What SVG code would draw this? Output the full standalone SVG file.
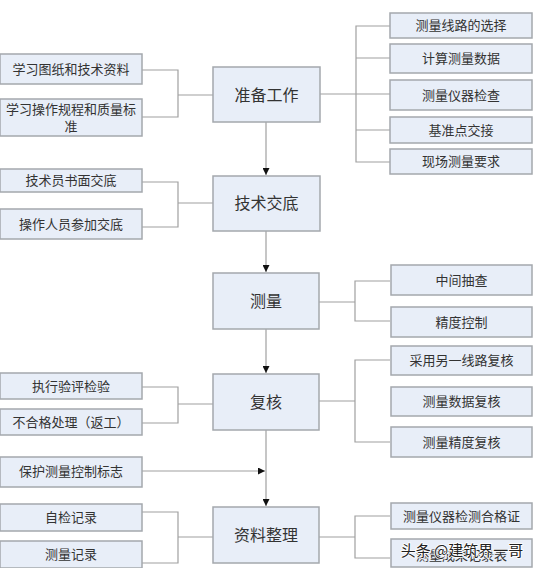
<svg xmlns="http://www.w3.org/2000/svg" width="533" height="568" viewBox="0 0 533 568">
<defs>
<style>
.b{fill:#e8eef8;stroke:#a4a8ad;stroke-width:1.5}
.t{font-family:"Liberation Serif","Noto Sans CJK SC",serif;font-size:13px;fill:#333;text-anchor:middle;dominant-baseline:central}
.m{font-size:16px}
.c{fill:none;stroke:#a0a0a0;stroke-width:1.2}
.w{font-family:"Noto Sans CJK SC",sans-serif;font-size:15px;fill:#222;stroke:#fff;stroke-width:1.6;paint-order:stroke;text-anchor:middle;dominant-baseline:central}
</style>
<marker id="a" viewBox="0 0 10 10" refX="10" refY="5" markerWidth="7" markerHeight="7" orient="auto" markerUnits="userSpaceOnUse">
<path d="M0,0L10,5L0,10z" fill="#111"/>
</marker>
</defs>
<rect width="533" height="568" fill="#fff"/>
<g id="connectors">
<path class="c" d="M142,70H178V117H142M178,95H213"/>
<path class="c" d="M320,94H356M390,26H356V162H390M356,58H390M356,94H390M356,130H390"/>
<path class="c" d="M142,182H178V227H142M178,203H213"/>
<path class="c" d="M319,302H355M390,281H355V321H390"/>
<path class="c" d="M142,387H178V423H142M178,404H213"/>
<path class="c" d="M319,401H355M390,360H355V442H390"/>
<path class="c" d="M142,512H178V563H142M178,537H213"/>
<path class="c" d="M319,537H355M390,516H355V558H390"/>
<path class="c" d="M266,122V175" marker-end="url(#a)"/>
<path class="c" d="M266,231V272" marker-end="url(#a)"/>
<path class="c" d="M266,329V373" marker-end="url(#a)"/>
<path class="c" d="M266,430V506" marker-end="url(#a)"/>
<path class="c" d="M142,471H265" marker-end="url(#a)"/>
</g>
<g id="n1"><rect class="b" x="213" y="67" width="107" height="55"/><text class="t m" x="266.5" y="95">准备工作</text></g>
<g id="n2"><rect class="b" x="213" y="176" width="107" height="55"/><text class="t m" x="266.5" y="203">技术交底</text></g>
<g id="n3"><rect class="b" x="213" y="273" width="106" height="56"/><text class="t m" x="266" y="301">测量</text></g>
<g id="n4"><rect class="b" x="213" y="374" width="106" height="56"/><text class="t m" x="266" y="402">复核</text></g>
<g id="n5"><rect class="b" x="213" y="507" width="106" height="56"/><text class="t m" x="266" y="535">资料整理</text></g>
<g id="l1"><rect class="b" x="0" y="54" width="142" height="30"/><text class="t" x="71" y="69">学习图纸和技术资料</text></g>
<g id="l2"><rect class="b" x="0" y="99" width="142" height="37"/><text class="t" x="71" y="109">学习操作规程和质量标</text><text class="t" x="71" y="126">准</text></g>
<g id="l3"><rect class="b" x="0" y="169" width="142" height="23"/><text class="t" x="71" y="180.5">技术员书面交底</text></g>
<g id="l4"><rect class="b" x="0" y="209" width="142" height="30"/><text class="t" x="71" y="224">操作人员参加交底</text></g>
<g id="l5"><rect class="b" x="0" y="373" width="142" height="26"/><text class="t" x="71" y="386">执行验评检验</text></g>
<g id="l6"><rect class="b" x="0" y="409" width="142" height="26"/><text class="t" x="71" y="422">不合格处理（返工）</text></g>
<g id="l7"><rect class="b" x="0" y="457" width="142" height="30"/><text class="t" x="71" y="471">保护测量控制标志</text></g>
<g id="l8"><rect class="b" x="0" y="504" width="142" height="27"/><text class="t" x="71" y="517.5">自检记录</text></g>
<g id="l9"><rect class="b" x="0" y="541" width="142" height="27"/><text class="t" x="71" y="554.5">测量记录</text></g>
<g id="r1"><rect class="b" x="390" y="13" width="142" height="25"/><text class="t" x="461" y="25.5">测量线路的选择</text></g>
<g id="r2"><rect class="b" x="390" y="44" width="142" height="29"/><text class="t" x="461" y="58.5">计算测量数据</text></g>
<g id="r3"><rect class="b" x="390" y="80" width="142" height="30"/><text class="t" x="461" y="95">测量仪器检查</text></g>
<g id="r4"><rect class="b" x="390" y="117" width="142" height="26"/><text class="t" x="461" y="130">基准点交接</text></g>
<g id="r5"><rect class="b" x="390" y="149" width="142" height="25"/><text class="t" x="461" y="161.5">现场测量要求</text></g>
<g id="r6"><rect class="b" x="391" y="265" width="141" height="30"/><text class="t" x="461.5" y="280">中间抽查</text></g>
<g id="r7"><rect class="b" x="391" y="307" width="141" height="30"/><text class="t" x="461.5" y="322">精度控制</text></g>
<g id="r8"><rect class="b" x="391" y="346" width="141" height="29"/><text class="t" x="461.5" y="360.5">采用另一线路复核</text></g>
<g id="r9"><rect class="b" x="391" y="387" width="141" height="29"/><text class="t" x="461.5" y="401.5">测量数据复核</text></g>
<g id="r10"><rect class="b" x="391" y="427" width="141" height="30"/><text class="t" x="461.5" y="442">测量精度复核</text></g>
<g id="r11"><rect class="b" x="391" y="503" width="141" height="26"/><text class="t" x="461.5" y="516">测量仪器检测合格证</text></g>
<g id="r12"><rect class="b" x="391" y="539" width="141" height="28"/><text class="t" x="461.5" y="555">测量成果记录表</text></g>
<text class="w" x="462" y="549">头条 @建筑界一哥</text>
</svg>
